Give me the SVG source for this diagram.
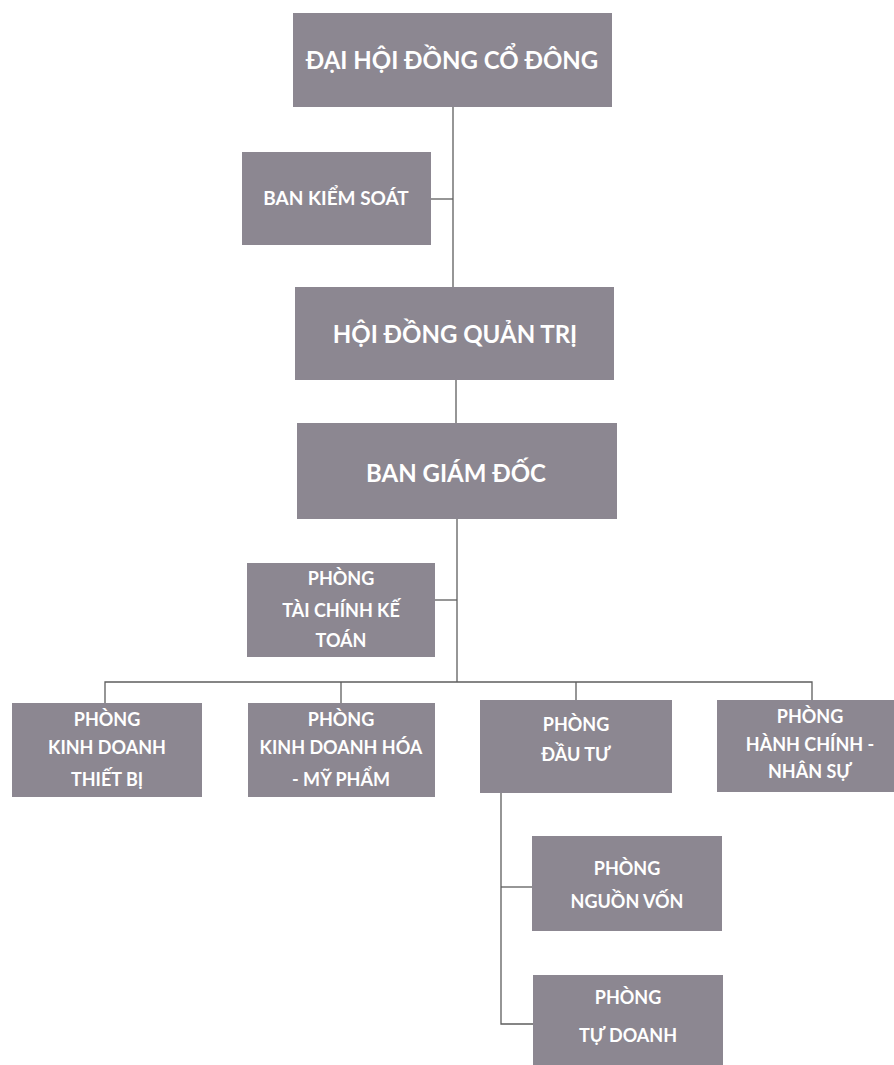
<svg xmlns="http://www.w3.org/2000/svg" width="894" height="1065" viewBox="0 0 894 1065">
<style>
.box{fill:#8c8791;}
.t{font-family:Lato,"Open Sans","Liberation Sans",sans-serif;fill:#ffffff;text-anchor:middle;}
.big{font-size:24px;font-weight:bold;}
.mid{font-size:19px;font-weight:bold;}
.sm{font-size:18px;font-weight:bold;}
.ln{fill:none;stroke:#5e5e5e;stroke-width:1.3;}
</style>
<rect width="894" height="1065" fill="#ffffff"/>
<g id="connectors">
<path class="ln" d="M453 107 V287"/>
<path class="ln" d="M431 199 H453"/>
<path class="ln" d="M456 380 V423"/>
<path class="ln" d="M457 519 V682"/>
<path class="ln" d="M435 600 H457"/>
<path class="ln" d="M105 703 V682 H812 V700"/>
<path class="ln" d="M341 682 V703"/>
<path class="ln" d="M576 682 V700"/>
<path class="ln" d="M501 793 V1024 H533"/>
<path class="ln" d="M501 887 H532"/>
</g>
<g id="dhdcd">
<rect class="box" x="293" y="13" width="319" height="94"/>
<text class="t big" x="452" y="69">ĐẠI HỘI ĐỒNG CỔ ĐÔNG</text>
</g>
<g id="bks">
<rect class="box" x="242" y="152" width="189" height="93"/>
<text class="t mid" x="336" y="205">BAN KIỂM SOÁT</text>
</g>
<g id="hdqt">
<rect class="box" x="295" y="287" width="319" height="93"/>
<text class="t big" x="455" y="343" font-size="27">HỘI ĐỒNG QUẢN TRỊ</text>
</g>
<g id="bgd">
<rect class="box" x="297" y="423" width="320" height="96"/>
<text class="t big" x="456" y="482" font-size="26">BAN GIÁM ĐỐC</text>
</g>
<g id="tckt">
<rect class="box" x="247" y="563" width="188" height="94"/>
<text class="t sm" x="341" y="585">PHÒNG</text>
<text class="t sm" x="341" y="617">TÀI CHÍNH KẾ</text>
<text class="t sm" x="341" y="647">TOÁN</text>
</g>
<g id="kdtb">
<rect class="box" x="12" y="703" width="190" height="94"/>
<text class="t sm" x="107" y="726">PHÒNG</text>
<text class="t sm" x="107" y="754">KINH DOANH</text>
<text class="t sm" x="107" y="786">THIẾT BỊ</text>
</g>
<g id="kdhmp">
<rect class="box" x="248" y="703" width="187" height="94"/>
<text class="t sm" x="341" y="726">PHÒNG</text>
<text class="t sm" x="341" y="754">KINH DOANH HÓA</text>
<text class="t sm" x="341" y="786">- MỸ PHẨM</text>
</g>
<g id="dautu">
<rect class="box" x="480" y="700" width="192" height="93"/>
<text class="t sm" x="576" y="731">PHÒNG</text>
<text class="t sm" x="576" y="761">ĐẦU TƯ</text>
</g>
<g id="hcns">
<rect class="box" x="717" y="700" width="177" height="92"/>
<text class="t sm" x="810" y="723">PHÒNG</text>
<text class="t sm" x="810" y="751">HÀNH CHÍNH -</text>
<text class="t sm" x="810" y="778">NHÂN SỰ</text>
</g>
<g id="nguonvon">
<rect class="box" x="532" y="836" width="190" height="95"/>
<text class="t sm" x="627" y="875">PHÒNG</text>
<text class="t sm" x="627" y="908">NGUỒN VỐN</text>
</g>
<g id="tudoanh">
<rect class="box" x="533" y="975" width="190" height="95"/>
<text class="t sm" x="628" y="1004">PHÒNG</text>
<text class="t sm" x="628" y="1042">TỰ DOANH</text>
</g>
</svg>
